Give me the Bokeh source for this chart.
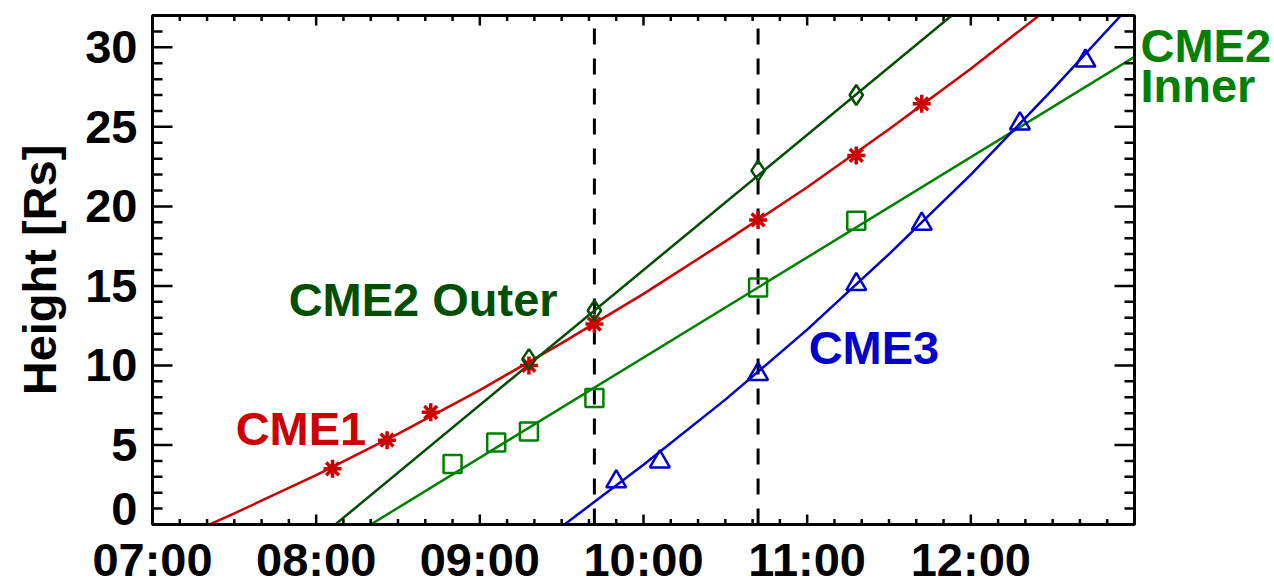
from bokeh.plotting import figure
from bokeh.models import Range1d, LinearAxis, FixedTicker, Label
from bokeh.embed import file_html
from bokeh.resources import INLINE

# ---------------- data (times as HH:MM, heights in solar radii) ----------------
x_tick_labels = ["07:00", "08:00", "09:00", "10:00", "11:00", "12:00", "13:00"]
y_tick_values = [0, 5, 10, 15, 20, 25, 30]

cme1_times = ["08:06", "08:26", "08:42", "09:18", "09:42", "10:42", "11:18", "11:42"]
cme1_heights = [3.5, 5.3, 7.05, 10.0, 12.6, 19.15, 23.2, 26.45]
cme1_fit_times = ["07:21", "07:30", "08:00", "08:30", "09:00", "09:30", "10:00",
                  "10:30", "11:00", "11:30", "12:00", "12:25"]
cme1_fit_heights = [0.0, 0.7, 3.1, 5.7, 8.45, 11.4, 14.5, 17.8, 21.2, 24.85, 28.65, 32.0]

cme2o_times = ["09:18", "09:42", "10:42", "11:18"]
cme2o_heights = [10.4, 13.45, 22.25, 27.0]
cme2o_fit_times = ["08:07", "11:53"]
cme2o_fit_heights = [0.0, 32.0]

cme2i_times = ["08:50", "09:06", "09:18", "09:42", "10:42", "11:18"]
cme2i_heights = [3.8, 5.15, 5.85, 7.95, 14.9, 19.1]
cme2i_fit_times = ["08:20", "10:42", "13:00"]
cme2i_fit_heights = [0.0, 14.9, 29.4]

cme3_times = ["09:50", "10:06", "10:42", "11:18", "11:42", "12:18", "12:42"]
cme3_heights = [2.7, 3.95, 9.45, 15.1, 18.9, 25.2, 29.15]
cme3_fit_times = ["09:31", "10:00", "10:30", "11:00", "11:30", "12:00", "12:30", "12:55"]
cme3_fit_heights = [0.0, 3.75, 7.85, 12.25, 17.0, 22.0, 27.35, 32.0]

marker_times = ["09:42", "10:42"]

# ---------------- styles ----------------
RED = "#cc0000"
DGREEN = "#004f00"
GREEN = "#008000"
BLUE = "#0000cc"
FONT = "Liberation Sans"
FS = "47px"
X0, X1, Y0, Y1 = 7.0, 13.0, 0.0, 32.0
FRAME_W, FRAME_H = 982.0, 509.0      # approximate frame size in pixels
PX_X = (X1 - X0) / FRAME_W           # data units per pixel
PX_Y = (Y1 - Y0) / FRAME_H


def hrs(s):
    h, m = s.split(":")
    return int(h) + int(m) / 60.0


def hlist(lst):
    return [hrs(s) for s in lst]


x_major = [float(int(hrs(s))) for s in x_tick_labels]
x_minor = [X0 + k / 6.0 for k in range(0, 37)]
y_major = [float(v) for v in y_tick_values]
y_minor = [float(v) for v in range(0, 33)]

p = figure(width=1274, height=588, x_range=Range1d(X0, X1), y_range=Range1d(Y0, Y1),
           output_backend="svg", toolbar_location=None,
           x_axis_type=None, y_axis_type=None,
           min_border_left=152, min_border_right=140, min_border_top=15, min_border_bottom=5)
p.grid.visible = False
p.outline_line_color = "black"
p.outline_line_width = 3
p.background_fill_color = "white"
p.border_fill_color = "white"
p.extra_y_ranges = {"lab": Range1d(0, 320)}


def label_axis(ax, standoff, color="black"):
    ax.axis_line_color = None
    ax.major_tick_line_color = None
    ax.minor_tick_line_color = None
    ax.major_tick_in = 0
    ax.major_tick_out = 0
    ax.minor_tick_in = 0
    ax.minor_tick_out = 0
    ax.major_label_standoff = standoff
    ax.major_label_text_font = FONT
    ax.major_label_text_font_style = "bold"
    ax.major_label_text_font_size = FS
    ax.major_label_text_color = color


# bottom axis: time labels
xb = LinearAxis(ticker=FixedTicker(ticks=[int(v) for v in x_major[:-1]]))
label_axis(xb, 8)
xb.major_label_overrides = {int(v): s for v, s in zip(x_major, x_tick_labels)}
p.add_layout(xb, "below")

# left axis: height labels (the "0" label sits one unit above the axis, as in the original)
yl = LinearAxis(ticker=FixedTicker(ticks=[1] + y_tick_values[1:]))
label_axis(yl, 15)
yl.major_label_overrides = {1: "0"}
yl.axis_label = "Height [Rs]"
yl.axis_label_text_font = FONT
yl.axis_label_text_font_style = "bold"
yl.axis_label_text_font_size = FS
yl.axis_label_text_color = "black"
yl.axis_label_standoff = 16
p.add_layout(yl, "left")

# right axis: carries the "CME2 / Inner" label outside the frame
yr = LinearAxis(y_range_name="lab", ticker=FixedTicker(ticks=[301, 276]))
label_axis(yr, 6, GREEN)
yr.major_label_overrides = {301: "CME2", 276: "Inner"}
p.add_layout(yr, "right")

# vertical dashed time markers
mt = hlist(marker_times)
p.segment(x0=mt, y0=[Y0] * len(mt), x1=mt, y1=[Y1] * len(mt),
          line_color="black", line_width=3, line_dash="16 14")

# fit curves
p.line(hlist(cme1_fit_times), cme1_fit_heights, line_color=RED, line_width=2.5)
p.line(hlist(cme2o_fit_times), cme2o_fit_heights, line_color=DGREEN, line_width=2.5)
p.line(hlist(cme2i_fit_times), cme2i_fit_heights, line_color=GREEN, line_width=2.5)
p.line(hlist(cme3_fit_times), cme3_fit_heights, line_color=BLUE, line_width=2.5)

# measurements
p.scatter(hlist(cme1_times), cme1_heights, marker="asterisk", size=18,
          line_color=RED, line_width=3.5)
p.scatter(hlist(cme2o_times), cme2o_heights, marker="diamond", size=20,
          fill_color=None, line_color=DGREEN, line_width=2.5)
p.scatter(hlist(cme2i_times), cme2i_heights, marker="square", size=18,
          fill_color=None, line_color=GREEN, line_width=2.5)
p.scatter(hlist(cme3_times), cme3_heights, marker="triangle", size=20,
          fill_color=None, line_color=BLUE, line_width=2.5)


def add_text(x, y, txt, color):
    p.add_layout(Label(x=x, y=y, text=txt, text_align="left", text_baseline="middle",
                       text_font=FONT, text_font_style="bold", text_font_size=FS,
                       text_color=color))


add_text(7.508, 6.06, "CME1", RED)
add_text(7.832, 14.12, "CME2 Outer", DGREEN)
add_text(11.009, 11.1, "CME3", BLUE)


# inward tick marks: one continuous "comb" polyline per side (the spine runs along the frame)
def comb_vertical(xedge, direction):
    xs, ys = [], []
    for v in y_minor:
        ln = 20 if v in y_major else 10
        xs.extend([xedge, xedge + direction * ln * PX_X, xedge])
        ys.extend([v, v, v])
    p.line(xs, ys, line_color="black", line_width=2.5)


def comb_horizontal(yedge, direction):
    xs, ys = [], []
    for v in x_minor:
        ln = 10 if any(abs(v - m) < 1e-6 for m in x_major) else 5.5
        xs.extend([v, v, v])
        ys.extend([yedge, yedge + direction * ln * PX_Y, yedge])
    p.line(xs, ys, line_color="black", line_width=2.5)


comb_vertical(X0, 1)
comb_vertical(X1, -1)
comb_horizontal(Y0, 1)
comb_horizontal(Y1, -1)

open("out.html", "w").write(file_html(p, INLINE))
